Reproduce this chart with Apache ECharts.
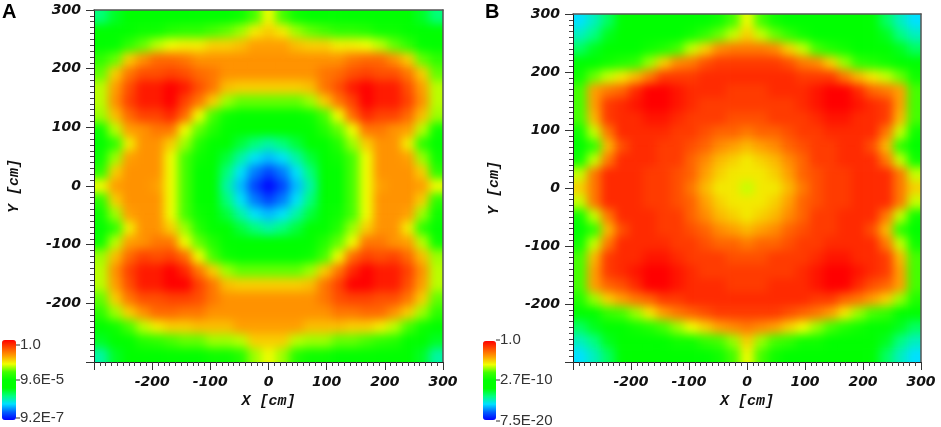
<!DOCTYPE html>
<html>
<head>
<meta charset="utf-8">
<script src="https://cdn.jsdelivr.net/npm/echarts@6/dist/echarts.min.js"></script>
<style>
  html, body { margin: 0; padding: 0; background: #fff; }
  #wrap { position: relative; width: 941px; height: 427px; background: #fff; }
  .clip { position: absolute; overflow: hidden; }
  .soft { position: absolute; left: -20px; top: -20px; filter: blur(5px); }
  #main { position: absolute; left: 0; top: 0; width: 941px; height: 427px; }
</style>
</head>
<body>
<div id="wrap">
  <div class="clip" style="left:94px;top:10px;width:349px;height:352px">
    <div id="heatA" class="soft" style="width:389px;height:392px"></div>
  </div>
  <div class="clip" style="left:573px;top:14px;width:348px;height:348px">
    <div id="heatB" class="soft" style="width:388px;height:388px"></div>
  </div>
  <div id="main"></div>
</div>
<script>
// cell centres in cm (columns left to right, rows top to bottom), 24 cm cells
var cellX = [-288, -264, -240, -216, -192, -168, -144, -120, -96, -72, -48, -24, 0, 24, 48, 72, 96, 120, 144, 168, 192, 216, 240, 264, 288];
var cellY = [288, 264, 240, 216, 192, 168, 144, 120, 96, 72, 48, 24, 0, -24, -48, -72, -96, -120, -144, -168, -192, -216, -240, -264, -288];
var cellSize = 24;
var axisTicks = [-300, -200, -100, 0, 100, 200, 300];

// panel A, log10 of the mapped value
var rowsA = [
  [-4.2, -3.8, -3.5, -3.3, -3.2, -3.2, -3.2, -3.0, -3.0, -3.0, -2.9, -2.4, -1.8, -2.4, -2.9, -3.0, -3.0, -3.0, -3.2, -3.2, -3.2, -3.3, -3.5, -3.8, -4.2],
  [-3.6, -3.3, -3.0, -2.9, -2.9, -2.7, -2.6, -2.6, -2.4, -2.3, -2.1, -1.7, -1.5, -1.7, -2.1, -2.3, -2.4, -2.6, -2.6, -2.7, -2.9, -2.9, -3.0, -3.3, -3.6],
  [-3.3, -3.0, -2.6, -2.3, -2.0, -1.8, -1.7, -1.7, -1.5, -1.5, -1.4, -1.2, -1.2, -1.2, -1.4, -1.5, -1.5, -1.7, -1.7, -1.8, -2.0, -2.3, -2.6, -3.0, -3.3],
  [-2.6, -2.3, -1.5, -1.1, -0.8, -0.8, -0.9, -1.1, -1.1, -1.1, -1.1, -1.1, -1.1, -1.1, -1.1, -1.1, -1.1, -1.1, -0.9, -0.8, -0.8, -1.1, -1.5, -2.3, -2.6],
  [-2.3, -1.5, -0.9, -0.6, -0.6, -0.5, -0.6, -0.8, -0.9, -1.1, -1.1, -1.1, -1.1, -1.1, -1.1, -1.1, -0.9, -0.8, -0.6, -0.5, -0.6, -0.6, -0.9, -1.5, -2.3],
  [-2.0, -1.2, -0.6, -0.2, -0.2, 0, -0.2, -0.6, -0.9, -1.4, -1.5, -1.5, -1.5, -1.5, -1.5, -1.4, -0.9, -0.6, -0.2, 0, -0.2, -0.2, -0.6, -1.2, -2.0],
  [-2.0, -1.1, -0.5, -0.2, -0.2, 0, -0.5, -0.9, -1.5, -2.1, -2.3, -2.3, -2.3, -2.3, -2.3, -2.1, -1.5, -0.9, -0.5, 0, -0.2, -0.2, -0.5, -1.1, -2.0],
  [-2.1, -1.4, -0.8, -0.5, -0.5, -0.3, -0.8, -1.8, -2.4, -2.9, -3.0, -3.0, -3.0, -3.0, -3.0, -2.9, -2.4, -1.8, -0.8, -0.3, -0.5, -0.5, -0.8, -1.4, -2.1],
  [-2.9, -2.0, -1.2, -1.1, -0.9, -0.9, -1.8, -2.3, -2.7, -3.0, -3.3, -3.5, -3.6, -3.5, -3.3, -3.0, -2.7, -2.3, -1.8, -0.9, -0.9, -1.1, -1.2, -2.0, -2.9],
  [-3.0, -2.6, -1.7, -1.1, -1.1, -1.5, -2.1, -2.7, -3.0, -3.5, -3.9, -4.2, -4.4, -4.2, -3.9, -3.5, -3.0, -2.7, -2.1, -1.5, -1.1, -1.1, -1.7, -2.6, -3.0],
  [-2.9, -2.1, -1.2, -1.1, -1.1, -1.8, -2.4, -2.9, -3.3, -3.9, -4.4, -4.8, -5.0, -4.8, -4.4, -3.9, -3.3, -2.9, -2.4, -1.8, -1.1, -1.1, -1.2, -2.1, -2.9],
  [-2.6, -1.5, -1.1, -1.1, -1.1, -1.8, -2.4, -3.0, -3.5, -4.2, -4.8, -5.3, -5.6, -5.3, -4.8, -4.2, -3.5, -3.0, -2.4, -1.8, -1.1, -1.1, -1.1, -1.5, -2.6],
  [-1.8, -1.2, -1.1, -1.1, -1.2, -1.8, -2.4, -3.0, -3.6, -4.4, -5.0, -5.6, -6.0, -5.6, -5.0, -4.4, -3.6, -3.0, -2.4, -1.8, -1.2, -1.1, -1.1, -1.2, -1.8],
  [-2.6, -1.5, -1.1, -1.1, -1.1, -1.8, -2.4, -3.0, -3.5, -4.2, -4.8, -5.3, -5.6, -5.3, -4.8, -4.2, -3.5, -3.0, -2.4, -1.8, -1.1, -1.1, -1.1, -1.5, -2.6],
  [-2.9, -2.1, -1.2, -1.1, -1.1, -1.8, -2.4, -2.9, -3.3, -3.9, -4.4, -4.8, -5.0, -4.8, -4.4, -3.9, -3.3, -2.9, -2.4, -1.8, -1.1, -1.1, -1.2, -2.1, -2.9],
  [-3.0, -2.6, -1.7, -1.1, -1.1, -1.5, -2.1, -2.7, -3.0, -3.5, -3.9, -4.2, -4.4, -4.2, -3.9, -3.5, -3.0, -2.7, -2.1, -1.5, -1.1, -1.1, -1.7, -2.6, -3.0],
  [-2.9, -2.0, -1.2, -1.1, -0.9, -0.9, -1.8, -2.3, -2.7, -3.0, -3.3, -3.5, -3.6, -3.5, -3.3, -3.0, -2.7, -2.3, -1.8, -0.9, -0.9, -1.1, -1.2, -2.0, -2.9],
  [-2.1, -1.4, -0.8, -0.5, -0.6, -0.5, -0.8, -1.8, -2.4, -2.9, -3.0, -3.0, -3.0, -3.0, -3.0, -2.9, -2.4, -1.8, -0.8, -0.5, -0.6, -0.5, -0.8, -1.4, -2.1],
  [-2.0, -1.1, -0.5, -0.2, -0.2, 0, -0.3, -0.9, -1.5, -2.1, -2.3, -2.3, -2.3, -2.3, -2.3, -2.1, -1.5, -0.9, -0.3, 0, -0.2, -0.2, -0.5, -1.1, -2.0],
  [-2.0, -1.2, -0.6, -0.2, -0.2, 0, 0, -0.5, -0.9, -1.4, -1.5, -1.5, -1.5, -1.5, -1.5, -1.4, -0.9, -0.5, 0, 0, -0.2, -0.2, -0.6, -1.2, -2.0],
  [-2.3, -1.5, -0.9, -0.6, -0.6, -0.5, -0.5, -0.6, -0.9, -1.1, -1.1, -1.1, -1.1, -1.1, -1.1, -1.1, -0.9, -0.6, -0.5, -0.5, -0.6, -0.6, -0.9, -1.5, -2.3],
  [-2.6, -2.1, -1.5, -1.1, -0.8, -0.8, -0.9, -0.9, -1.1, -1.1, -1.1, -1.1, -1.1, -1.1, -1.1, -1.1, -1.1, -0.9, -0.9, -0.8, -0.8, -1.1, -1.5, -2.1, -2.6],
  [-3.3, -2.9, -2.4, -2.0, -1.7, -1.5, -1.5, -1.4, -1.4, -1.4, -1.2, -1.2, -1.2, -1.2, -1.2, -1.4, -1.4, -1.4, -1.5, -1.5, -1.7, -2.0, -2.4, -2.9, -3.3],
  [-3.8, -3.3, -3.0, -2.7, -2.6, -2.4, -2.3, -2.3, -2.1, -2.1, -2.0, -1.5, -1.5, -1.5, -2.0, -2.1, -2.1, -2.3, -2.3, -2.4, -2.6, -2.7, -3.0, -3.3, -3.8],
  [-4.4, -3.8, -3.5, -3.3, -3.2, -3.0, -3.0, -3.0, -2.9, -2.9, -2.7, -2.1, -1.8, -2.1, -2.7, -2.9, -2.9, -3.0, -3.0, -3.0, -3.2, -3.3, -3.5, -3.8, -4.4]
];

// panel B, log10 of the mapped value
var rowsB = [
  [-15.3, -14.3, -12.9, -11.5, -10.5, -10.0, -10.0, -10.0, -9.6, -9.6, -9.1, -7.6, -5.7, -7.6, -9.1, -9.6, -9.6, -10.0, -10.0, -10.0, -10.5, -11.5, -12.9, -14.3, -15.3],
  [-14.3, -13.4, -11.9, -10.5, -10.0, -10.0, -9.6, -9.6, -9.1, -8.1, -7.2, -6.2, -4.8, -6.2, -7.2, -8.1, -9.1, -9.6, -9.6, -10.0, -10.0, -10.5, -11.9, -13.4, -14.3],
  [-12.9, -11.9, -11.0, -9.6, -9.6, -9.1, -8.6, -7.6, -6.2, -4.8, -3.3, -2.9, -2.9, -2.9, -3.3, -4.8, -6.2, -7.6, -8.6, -9.1, -9.6, -9.6, -11.0, -11.9, -12.9],
  [-11.5, -10.5, -9.1, -8.6, -8.1, -6.7, -4.8, -3.3, -2.9, -1.9, -1.4, -1.4, -1.4, -1.4, -1.4, -1.9, -2.9, -3.3, -4.8, -6.7, -8.1, -8.6, -9.1, -10.5, -11.5],
  [-9.1, -7.2, -6.2, -5.3, -4.3, -2.9, -1.4, -1.4, -1.4, -1.0, -1.0, -1.0, -1.0, -1.0, -1.0, -1.0, -1.4, -1.4, -1.4, -2.9, -4.3, -5.3, -6.2, -7.2, -9.1],
  [-7.6, -3.8, -2.9, -2.4, -1.0, 0, 0, -0.5, -1.0, -1.0, -1.0, -1.4, -1.4, -1.4, -1.0, -1.0, -1.0, -0.5, 0, 0, -1.0, -2.4, -2.9, -3.8, -7.6],
  [-7.6, -3.8, -1.4, -1.0, -0.5, 0, 0, -0.5, -1.0, -1.4, -1.4, -1.4, -1.4, -1.4, -1.4, -1.4, -1.0, -0.5, 0, 0, -0.5, -1.0, -1.4, -3.8, -7.6],
  [-7.6, -4.3, -1.4, -1.0, -1.0, -0.5, -0.5, -1.0, -1.4, -1.4, -1.4, -1.9, -1.9, -1.9, -1.4, -1.4, -1.4, -1.0, -0.5, -0.5, -1.0, -1.0, -1.4, -4.3, -7.6],
  [-9.1, -6.2, -2.9, -1.0, -1.0, -1.0, -1.0, -1.4, -1.4, -1.9, -2.4, -2.4, -2.9, -2.4, -2.4, -1.9, -1.4, -1.4, -1.0, -1.0, -1.0, -1.0, -2.9, -6.2, -9.1],
  [-9.6, -8.1, -4.3, -1.9, -1.0, -1.0, -1.4, -1.4, -1.9, -2.4, -3.3, -3.8, -4.3, -3.8, -3.3, -2.4, -1.9, -1.4, -1.4, -1.0, -1.0, -1.9, -4.3, -8.1, -9.6],
  [-9.1, -6.2, -2.9, -1.0, -1.0, -1.0, -1.4, -1.4, -2.4, -3.3, -4.3, -4.8, -5.3, -4.8, -4.3, -3.3, -2.4, -1.4, -1.4, -1.0, -1.0, -1.0, -2.9, -6.2, -9.1],
  [-6.2, -2.9, -1.0, -1.0, -1.0, -1.4, -1.4, -1.9, -2.4, -3.8, -4.8, -5.3, -5.3, -5.3, -4.8, -3.8, -2.4, -1.9, -1.4, -1.4, -1.0, -1.0, -1.0, -2.9, -6.2],
  [-4.8, -2.9, -1.0, -1.0, -1.0, -1.4, -1.4, -1.9, -2.9, -4.3, -5.3, -5.3, -6.2, -5.3, -5.3, -4.3, -2.9, -1.9, -1.4, -1.4, -1.0, -1.0, -1.0, -2.9, -4.8],
  [-6.2, -2.9, -1.0, -1.0, -1.0, -1.4, -1.4, -1.9, -2.4, -3.8, -4.8, -5.3, -5.3, -5.3, -4.8, -3.8, -2.4, -1.9, -1.4, -1.4, -1.0, -1.0, -1.0, -2.9, -6.2],
  [-9.1, -6.2, -2.9, -1.0, -1.0, -1.0, -1.4, -1.4, -2.4, -3.3, -4.3, -4.8, -5.3, -4.8, -4.3, -3.3, -2.4, -1.4, -1.4, -1.0, -1.0, -1.0, -2.9, -6.2, -9.1],
  [-9.6, -8.1, -4.3, -1.9, -1.0, -1.0, -1.4, -1.4, -1.9, -2.4, -3.3, -3.8, -4.3, -3.8, -3.3, -2.4, -1.9, -1.4, -1.4, -1.0, -1.0, -1.9, -4.3, -8.1, -9.6],
  [-9.1, -6.2, -2.9, -1.0, -1.0, -1.0, -1.0, -1.4, -1.4, -1.9, -2.4, -2.4, -2.9, -2.4, -2.4, -1.9, -1.4, -1.4, -1.0, -1.0, -1.0, -1.0, -2.9, -6.2, -9.1],
  [-7.6, -4.3, -1.4, -1.0, -1.0, -0.5, -0.5, -1.0, -1.4, -1.4, -1.4, -1.9, -1.9, -1.9, -1.4, -1.4, -1.4, -1.0, -0.5, -0.5, -1.0, -1.0, -1.4, -4.3, -7.6],
  [-7.6, -3.8, -1.4, -1.0, -0.5, 0, 0, -0.5, -1.0, -1.4, -1.4, -1.4, -1.4, -1.4, -1.4, -1.4, -1.0, -0.5, 0, 0, -0.5, -1.0, -1.4, -3.8, -7.6],
  [-7.6, -3.8, -2.4, -1.9, -1.0, 0, 0, -0.5, -1.0, -1.0, -1.0, -1.4, -1.4, -1.4, -1.0, -1.0, -1.0, -0.5, 0, 0, -1.0, -1.9, -2.4, -3.8, -7.6],
  [-8.6, -6.7, -4.8, -3.8, -2.9, -2.4, -1.4, -1.4, -1.0, -1.0, -1.0, -1.0, -1.0, -1.0, -1.0, -1.0, -1.0, -1.4, -1.4, -2.4, -2.9, -3.8, -4.8, -6.7, -8.6],
  [-11.5, -10.5, -8.1, -7.6, -6.7, -5.3, -3.8, -2.9, -2.4, -1.9, -1.4, -1.4, -1.4, -1.4, -1.4, -1.9, -2.4, -2.9, -3.8, -5.3, -6.7, -7.6, -8.1, -10.5, -11.5],
  [-12.9, -11.9, -11.0, -9.6, -9.1, -8.6, -7.6, -6.7, -5.7, -4.8, -3.8, -3.3, -2.9, -3.3, -3.8, -4.8, -5.7, -6.7, -7.6, -8.6, -9.1, -9.6, -11.0, -11.9, -12.9],
  [-14.3, -13.4, -11.9, -10.5, -10.0, -9.6, -9.6, -9.1, -9.1, -8.1, -7.6, -6.7, -4.8, -6.7, -7.6, -8.1, -9.1, -9.1, -9.6, -9.6, -10.0, -10.5, -11.9, -13.4, -14.3],
  [-15.3, -14.3, -12.9, -11.5, -10.5, -10.0, -10.0, -10.0, -9.6, -9.6, -9.1, -7.6, -5.7, -7.6, -9.1, -9.6, -9.6, -10.0, -10.0, -10.0, -10.5, -11.5, -12.9, -14.3, -15.3]
];

var rangeA = [-6.04, 0];     // 9.2E-7 .. 1.0
var rangeB = [-19.12, 0];    // 7.5E-20 .. 1.0
var legendA = ["1.0", "9.6E-5", "9.2E-7"];
var legendB = ["1.0", "2.7E-10", "7.5E-20"];
var panelNames = ["A", "B"];

var rainbow = ["#0000ff", "#0060ff", "#00e0ff", "#00ff80", "#00ff00", "#00ff00",
  "#40ff00", "#f0ff00", "#ffa000", "#ff5000", "#ff0000"];

function toCells(rows) {
  var out = [];
  rows.forEach(function (row, j) {
    row.forEach(function (v, i) {
      out.push([cellX[i], cellY[j], v]);
    });
  });
  return out;
}

// cells on the outer rim are stretched past the plot edge so the soft layer keeps full colour at the border
var edgePad = 20;
function renderCell(params, api) {
  var half = cellSize / 2;
  var cx = api.value(0), cy = api.value(1);
  var p0 = api.coord([cx - half, cy + half]);
  var p1 = api.coord([cx + half, cy - half]);
  var x0 = p0[0], y0 = p0[1], x1 = p1[0] + 0.6, y1 = p1[1] + 0.6;
  if (cx === cellX[0]) x0 -= edgePad;
  if (cx === cellX[cellX.length - 1]) x1 += edgePad;
  if (cy === cellY[0]) y0 -= edgePad;
  if (cy === cellY[cellY.length - 1]) y1 += edgePad;
  return {
    type: "rect",
    shape: { x: x0, y: y0, width: x1 - x0, height: y1 - y0 },
    style: { fill: api.visual("color") }
  };
}

function heatChart(domId, rows, range) {
  var c = echarts.init(document.getElementById(domId));
  c.setOption({
    animation: false,
    grid: { left: edgePad, top: edgePad, right: edgePad, bottom: edgePad },
    xAxis: { type: "value", min: axisTicks[0], max: axisTicks[axisTicks.length - 1], show: false },
    yAxis: { type: "value", min: axisTicks[0], max: axisTicks[axisTicks.length - 1], show: false },
    visualMap: {
      type: "continuous", show: false, dimension: 2,
      min: range[0], max: range[1], inRange: { color: rainbow }
    },
    series: [{
      type: "custom", renderItem: renderCell, encode: { x: 0, y: 1 },
      clip: false, silent: true, data: toCells(rows)
    }]
  });
  return c;
}

heatChart("heatA", rowsA, rangeA);
heatChart("heatB", rowsB, rangeB);

var tickFont = { fontFamily: "DejaVu Sans", fontWeight: "bold", fontStyle: "italic", fontSize: 14, color: "#111" };
var nameFont = { fontFamily: "Liberation Mono", fontWeight: "bold", fontStyle: "italic", fontSize: 15, color: "#111" };

function mainAxis(gridIndex, name, gap) {
  return {
    gridIndex: gridIndex,
    type: "value",
    min: axisTicks[0],
    max: axisTicks[axisTicks.length - 1],
    interval: 100,
    name: name,
    nameLocation: "middle",
    nameGap: gap,
    nameTextStyle: nameFont,
    splitLine: { show: false },
    axisLine: { show: true, onZero: false, lineStyle: { color: "#222", width: 1 } },
    axisTick: { show: true, length: 8, lineStyle: { color: "#333" } },
    minorTick: { show: true, splitNumber: 10, length: 4, lineStyle: { color: "#444" } },
    axisLabel: Object.assign({ margin: 13, showMinLabel: false }, tickFont),
    z: 10
  };
}

function frameAxis(gridIndex, position) {
  return {
    gridIndex: gridIndex,
    type: "value",
    position: position,
    min: axisTicks[0],
    max: axisTicks[axisTicks.length - 1],
    axisLine: { show: true, onZero: false, lineStyle: { color: "#555", width: 1.5 } },
    axisTick: { show: false },
    axisLabel: { show: false },
    splitLine: { show: false },
    z: 10
  };
}

var chart = echarts.init(document.getElementById("main"));

var legendText = { fontFamily: "Liberation Sans", fontSize: 15, fill: "#333" };

function legendGraphics(x, yList, labels) {
  var els = [];
  labels.forEach(function (t, k) {
    els.push({
      type: "line",
      shape: { x1: x, y1: yList[k], x2: x + 4, y2: yList[k] },
      style: { stroke: "#333", lineWidth: 1 }
    });
    els.push({
      type: "text",
      x: x + 4,
      y: yList[k],
      style: Object.assign({ text: t, verticalAlign: "middle", align: "left" }, legendText)
    });
  });
  return els;
}

var graphics = [
  { type: "text", x: 2, y: 2, style: { text: panelNames[0], fontFamily: "Liberation Sans", fontWeight: "bold", fontSize: 20, fill: "#000" } },
  { type: "text", x: 485, y: 2, style: { text: panelNames[1], fontFamily: "Liberation Sans", fontWeight: "bold", fontSize: 20, fill: "#000" } }
].concat(legendGraphics(16, [345, 380, 418], legendA))
 .concat(legendGraphics(496, [340, 380, 421], legendB));

chart.setOption({
  animation: false,
  backgroundColor: "transparent",
  grid: [
    { left: 94, top: 10, width: 349, height: 352 },
    { left: 573, top: 14, width: 348, height: 348 }
  ],
  xAxis: [
    mainAxis(0, "X [cm]", 31),
    mainAxis(1, "X [cm]", 31),
    frameAxis(0, "top"),
    frameAxis(1, "top")
  ],
  yAxis: [
    mainAxis(0, "Y [cm]", 72),
    mainAxis(1, "Y [cm]", 71),
    frameAxis(0, "right"),
    frameAxis(1, "right")
  ],
  visualMap: [
    {
      type: "continuous", dimension: 2,
      min: rangeA[0], max: rangeA[1],
      calculable: false, hoverLink: false, orient: "vertical",
      left: 2, top: 340, itemWidth: 14, itemHeight: 80, padding: 0,
      inRange: { color: rainbow }
    },
    {
      type: "continuous", dimension: 2,
      min: rangeB[0], max: rangeB[1],
      calculable: false, hoverLink: false, orient: "vertical",
      left: 483, top: 341, itemWidth: 13, itemHeight: 79, padding: 0,
      inRange: { color: rainbow }
    }
  ],
  graphic: graphics
});
</script>
</body>
</html>
